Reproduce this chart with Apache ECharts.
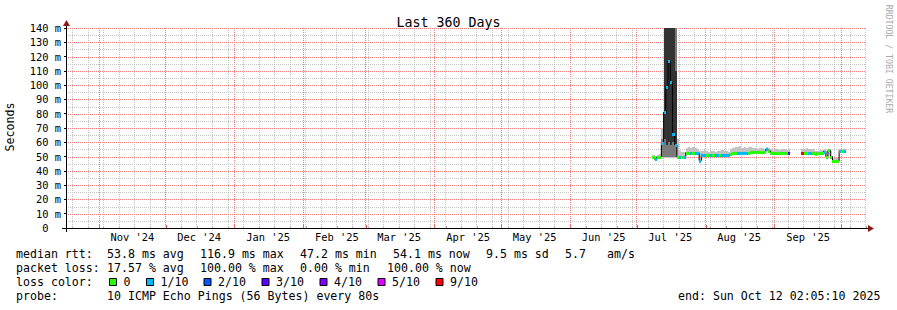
<!DOCTYPE html>
<html><head><meta charset="utf-8">
<script src="https://cdn.jsdelivr.net/npm/echarts@6/dist/echarts.min.js"></script>
<style>html,body{margin:0;padding:0;background:#fff}#c{width:897px;height:310px}</style>
</head><body><div id="c"></div>
<script>
// ---------- data ----------
const END_TS = Date.UTC(2025, 9, 12, 2, 5, 10);
const SPAN_DAYS = 360;
const DAY = 86400000;
const START_TS = END_TS - SPAN_DAYS * DAY;
const DATA_START = Date.UTC(2025, 6, 8);   // first daily sample (Jul 8 2025)

const yTickValues = [0,10,20,30,40,50,60,70,80,90,100,110,120,130,140];
const yMinorValues = [5,15,25,35,45,55,65,75,85,95,105,115,125,135];

const monthStarts = ['2024-11-01','2024-12-01','2025-01-01','2025-02-01','2025-03-01','2025-04-01','2025-05-01','2025-06-01','2025-07-01','2025-08-01','2025-09-01','2025-10-01'];
const monthLabelDates = ['2024-11-16','2024-12-16','2025-01-16','2025-02-16','2025-03-16','2025-04-16','2025-05-16','2025-06-16','2025-07-16','2025-08-16','2025-09-16'];
const monthLabels = ["Nov '24","Dec '24","Jan '25","Feb '25","Mar '25","Apr '25","May '25","Jun '25","Jul '25","Aug '25","Sep '25"];
const firstSunday = '2024-10-20';

// median rtt (ms), one value per day from Jul 8 2025
const medianRtt = [50,48,50,50,59.5,81,99,116.9,102,66,58,50,50,50,50,52.7,52.7,52.7,52.7,52.7,52.5,47.2,
  51,51,51,51,51,51,51,51,51,51,51,51,51,52,52.7,52.7,52.7,52.7,52.7,52.7,52.7,52.7,53,53,53,53,53,53,53,55,54,
  52.7,52.7,52.7,52.7,52.7,52.7,52.7,52.7,52.7,null,null,null,null,null,
  52.7,52.7,52.7,52.7,52.7,52.7,51.5,52.7,52.7,52.7,53.5,50,54.5,50,47,47,47,54,54,54];
// lost pings out of 10 per day
const lossCount = [0,1,0,0,1,1,1,1,1,1,1,0,1,0,1,0,0,1,0,1,1,1,
  1,1,0,0,1,0,1,1,0,1,1,1,1,0,0,0,1,1,1,1,1,0,0,0,0,0,0,0,0,1,0,
  0,0,0,0,0,0,0,0,3,10,10,10,10,10,
  9,0,0,1,1,0,0,0,0,0,1,0,0,0,0,0,0,1,0,1];
// smoke: outer range (ms)
const smokeLo = [49.5,47.5,49.5,49.5,49,49,49,49,49,49,49,49.5,49.5,49.5,49.5,52,52,52,52,52,52,46.5,
  50.5,50.5,50.5,50.5,50.5,50.5,50.5,50.5,50.5,50.5,50.5,50.5,50.5,51.5,52,52,52,52,52,52,52,52,52.5,52.5,52.5,52.5,52.5,52.5,52.5,54,53.5,
  52,52,52,52,52,52,52,52,52,null,null,null,null,null,
  52,52,52,52,52,52,51,52,52,52,53,49.5,54,49.5,46.5,46.5,46.5,53.5,53.5,53.5];
const smokeHi = [51,50,51,52,70,160,160,160,160,160,160,62,54,53.5,53.5,56,56.5,56,56.5,56,55.5,54,
  54,54.5,54,53.5,54,54,53.5,54,54,54.5,54,54,53.5,55,56,57,56.5,57.5,56,57,56,56.5,57,56,56,55.5,56,56,55.5,57,56,
  55,54.5,55,55,54.5,55,55,54.5,55,null,null,null,null,null,
  55.5,55.5,56,55.5,55.5,55.5,54,54,54,54.5,55,54,55,54,49,49,49,55,55,55];
// smoke: middle range and dense core (ms), only during the July spike
const N = null;
const midLo  = [N,N,N,N,50,50,50,50,50,50,50,N];
const midHi  = [N,N,N,N,62,160,160,160,160,160,150,N];
const coreLo = [N,N,N,N,N,62,58,60,58,60,57,N];
const coreHi = [N,N,N,N,N,160,160,160,160,160,110,N];

const lossColors = {0:'#26ff00',1:'#00b8ff',2:'#0059ff',3:'#5e00ff',4:'#7e00ff',5:'#dd00ff',9:'#ff0000'};
const legendLoss = [['0',0],['1/10',1],['2/10',2],['3/10',3],['4/10',4],['5/10',5],['9/10',9]];

// ---------- build ----------
const ts = s => { const [y,m,d] = s.split('-').map(Number); return Date.UTC(y, m-1, d); };
const monthTicks = monthStarts.map(ts);
const labelTicks = monthLabelDates.map(ts);
const weekTicks = [];
for (let t = ts(firstSunday); t < END_TS; t += 7*DAY) weekTicks.push(t);

const medianData = medianRtt.map((v,i) => [DATA_START + i*DAY, v]);
const colorData = medianRtt.map((v,i) => [DATA_START + i*DAY, v, lossCount[i]]);
const pick = (arr, i) => (i < arr.length ? arr[i] : null);
const smokeData = medianRtt.map((v,i) => [DATA_START + i*DAY, smokeLo[i], smokeHi[i],
  pick(midLo,i), pick(midHi,i), pick(coreLo,i), pick(coreHi,i)]);
// grid lines: [position, kind]  kind 0 = minor (grey), 1 = major (red); minor first so major draws on top
const vGridData = weekTicks.map(t => [t, 0, 0]).concat(monthTicks.map(t => [t, 0, 1]));
const hGridData = yMinorValues.map(v => [START_TS, v, 0]).concat(yTickValues.filter(v => v > 0).map(v => [START_TS, v, 1]));

const MONO = '"DejaVu Sans Mono", monospace';
const GRID_COLORS = ['#c4c4c4', '#f47c7c'];

function isNum(v){ return v != null && !isNaN(v); }

function renderSmoke(params, api) {
  const cs = params.coordSys;
  const clampY = y => Math.max(cs.y, Math.min(cs.y + cs.height, y));
  const t = api.value(0);
  const children = [];
  const band = (lo, hi, fill) => {
    if (!isNum(lo) || !isNum(hi)) return;
    const a = api.coord([t, lo]), b = api.coord([t + DAY, hi]);
    const x0 = Math.round(a[0]), x1 = Math.round(b[0]);
    const y0 = Math.round(clampY(b[1])), y1 = Math.round(clampY(a[1]));
    children.push({type:'rect', shape:{x:x0, y:y0, width:x1-x0, height:y1-y0}, style:{fill}});
  };
  band(api.value(1), api.value(2), '#c2c2c2');
  band(api.value(3), api.value(4), '#7a7a7a');
  band(api.value(5), api.value(6), '#333333');
  return {type:'group', children};
}
function renderMedian(params, api) {
  const t = api.value(0), v = api.value(1), l = api.value(2);
  if (!isNum(v) || !(l in lossColors)) return null;
  const a = api.coord([t, v]), b = api.coord([t + DAY, v]);
  const x0 = Math.round(a[0]), x1 = Math.round(b[0]);
  return {type:'rect', shape:{x:x0, y:Math.round(a[1]) - 1, width:x1-x0, height:3}, style:{fill:lossColors[l]}};
}
function renderVGrid(params, api) {
  const cs = params.coordSys;
  const x = Math.floor(api.coord([api.value(0), 0])[0]) + 0.5;
  return {type:'line', shape:{x1:x, y1:cs.y, x2:x, y2:cs.y + cs.height},
    style:{stroke:GRID_COLORS[api.value(2)], lineWidth:1, lineDash:[1,1]}};
}
function renderHGrid(params, api) {
  const cs = params.coordSys;
  const y = Math.round(api.coord([START_TS, api.value(1)])[1]) + 0.5;
  return {type:'line', shape:{x1:cs.x, y1:y, x2:cs.x + cs.width, y2:y},
    style:{stroke:GRID_COLORS[api.value(2)], lineWidth:1, lineDash:[1,1]}};
}

const graphic = [];
const txt = (x, y, text) => graphic.push({type:'text', x, y, silent:true,
  style:{text, fontFamily:MONO, fontSize:11.6, fill:'#000', verticalAlign:'middle', align:'left'}});

// legend lines
txt(16,254,'median rtt:'); txt(107,254,'53.8 ms avg'); txt(200,254,'116.9 ms max'); txt(300,254,'47.2 ms min');
txt(393,254,'54.1 ms now'); txt(486,254,'9.5 ms sd'); txt(565,254,'5.7'); txt(607,254,'am/s');
txt(16,268,'packet loss:'); txt(107,268,'17.57 % avg'); txt(200,268,'100.00 % max'); txt(300,268,'0.00 % min'); txt(387,268,'100.00 % now');
txt(16,282,'loss color:');
const boxX = [109,146,203.5,261.5,319.5,377.5,435.5];
legendLoss.forEach(([label, l], i) => {
  graphic.push({type:'rect', silent:true, shape:{x:boxX[i]+0.5, y:278.5, width:7, height:7}, style:{fill:lossColors[l], stroke:'#000', lineWidth:1}});
  txt(boxX[i] + 14.5, 282, label);
});
txt(16,296,'probe:'); txt(107,296,'10 ICMP Echo Pings (56 Bytes) every 80s');
txt(678,296,'end: Sun Oct 12 02:05:10 2025');
// axis name, watermark
graphic.push({type:'text', x:10, y:127, rotation:Math.PI/2, silent:true,
  style:{text:'Seconds', fontFamily:MONO, fontSize:11.6, fill:'#000', align:'center', verticalAlign:'middle'}});
graphic.push({type:'text', x:889, y:59, rotation:-Math.PI/2, silent:true,
  style:{text:'RRDTOOL / TOBI OETIKER', fontFamily:MONO, fontSize:8.2, fill:'#aaaaaa', align:'center', verticalAlign:'middle'}});
// axis extensions & arrows
graphic.push({type:'rect', silent:true, z:50, shape:{x:62, y:228, width:806, height:1}, style:{fill:'#000'}});
graphic.push({type:'rect', silent:true, z:50, shape:{x:66, y:25, width:1, height:207}, style:{fill:'#000'}});
graphic.push({type:'polygon', silent:true, z:50, shape:{points:[[868,225],[874,228.5],[868,232]]}, style:{fill:'#8b1a1a'}});
graphic.push({type:'polygon', silent:true, z:50, shape:{points:[[63,26],[66.5,20],[70,26]]}, style:{fill:'#8b1a1a'}});

const baseX = {type:'value', min:START_TS, max:END_TS, position:'bottom', axisLine:{show:false}, axisLabel:{show:false}, axisTick:{show:false}, splitLine:{show:false}};

const option = {
  animation:false,
  backgroundColor:'#ffffff',
  title:{text:'Last 360 Days', left:'center', top:11, textStyle:{fontFamily:MONO, fontSize:13.3, fontWeight:'normal', color:'#000'}},
  grid:{left:66, top:28, width:800, height:200},
  xAxis:[
    Object.assign({}, baseX, {axisTick:{show:true, length:2, inside:true, customValues:weekTicks, lineStyle:{color:'#aaaaaa'}}}),
    Object.assign({}, baseX, {axisTick:{show:true, length:3, inside:true, customValues:monthTicks, lineStyle:{color:'#e05050'}}}),
    Object.assign({}, baseX, {axisLabel:{show:true, customValues:labelTicks, margin:4, fontFamily:MONO, fontSize:10.4, color:'#000',
      formatter: v => monthLabels[labelTicks.indexOf(v)] || ''}})
  ],
  yAxis:[
    {type:'value', min:0, max:140, interval:10, position:'left', axisLine:{show:false}, splitLine:{show:false},
      axisTick:{show:true, length:2, lineStyle:{color:'#000'}, customValues:yTickValues},
      axisLabel:{show:true, margin:5, fontFamily:MONO, fontSize:10.4, color:'#000', customValues:yTickValues,
        formatter: v => v === 0 ? '0\u00a0\u00a0' : v + ' m'}}
  ],
  graphic,
  series:[
    {type:'custom', name:'vgrid', xAxisIndex:0, data:vGridData, encode:{x:0, y:1}, renderItem:renderVGrid, z:1, silent:true},
    {type:'custom', name:'hgrid', xAxisIndex:0, data:hGridData, encode:{x:0, y:1}, renderItem:renderHGrid, z:1, silent:true},
    {type:'custom', name:'smoke', xAxisIndex:0, data:smokeData, encode:{x:0, y:[1,2]}, renderItem:renderSmoke, z:2, silent:true},
    {type:'line', name:'median', xAxisIndex:0, data:medianData, step:'end', showSymbol:false, connectNulls:false,
      lineStyle:{color:'#000', width:1}, z:3, silent:true},
    {type:'custom', name:'loss', xAxisIndex:0, data:colorData, encode:{x:0, y:1}, renderItem:renderMedian, z:4, silent:true}
  ]
};
const chart = echarts.init(document.getElementById('c'), null, {renderer:'svg'});
chart.setOption(option);
</script></body></html>
